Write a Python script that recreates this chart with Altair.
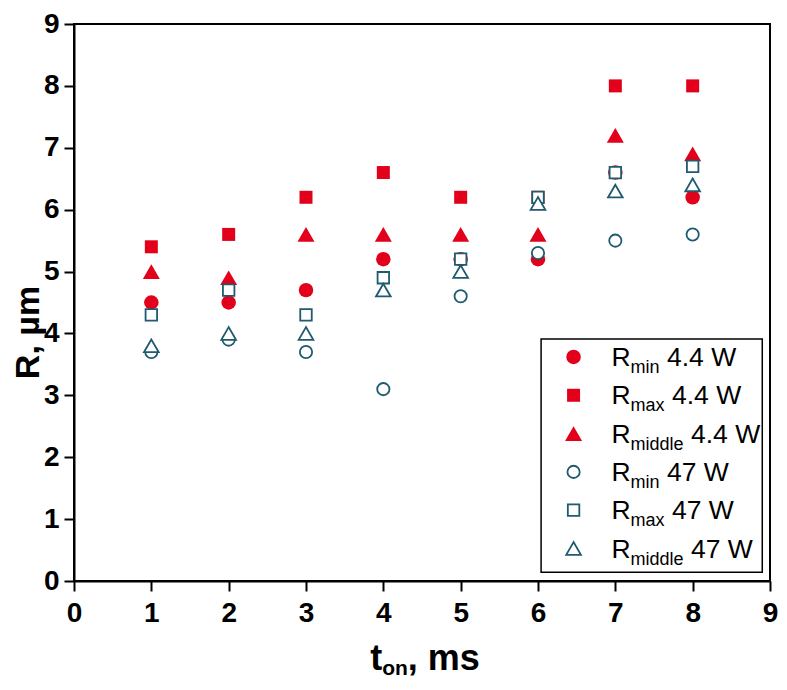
import altair as alt
import pandas as pd

# ---------------- data ----------------
t_on = [1, 2, 3, 4, 5, 6, 7, 8]
rmin_44 = [4.5, 4.5, 4.7, 5.2, 5.2, 5.2, 6.6, 6.2]
rmax_44 = [5.4, 5.6, 6.2, 6.6, 6.2, 6.2, 8.0, 8.0]
rmid_44 = [5.0, 4.9, 5.6, 5.6, 5.6, 5.6, 7.2, 6.9]
rmin_47 = [3.7, 3.9, 3.7, 3.1, 4.6, 5.3, 5.5, 5.6]
rmax_47 = [4.3, 4.7, 4.3, 4.9, 5.2, 6.2, 6.6, 6.7]
rmid_47 = [3.8, 4.0, 4.0, 4.7, 5.0, 6.1, 6.3, 6.4]

series_values = [rmin_44, rmax_44, rmid_44, rmin_47, rmax_47, rmid_47]
legend_sub = ["min", "max", "middle", "min", "max", "middle"]
legend_suffix = ["4.4 W", "4.4 W", "4.4 W", "47 W", "47 W", "47 W"]

x_ticks = [i * 0.5 for i in range(19)]
y_ticks = [i * 0.5 for i in range(19)]

# ---------------- style ----------------
RED = "#e2001a"
TEAL = "#1f5a6e"
FONT = "Liberation Sans"
W, H = 696, 557
PPU_X = W / 9.0
LEG_FS, LEG_SUB_FS = 26.5, 18

styles = [
    dict(shape="circle", size=210, filled=True, color=RED),
    dict(shape="square", size=169, filled=True, color=RED),
    dict(shape="triangle-up", size=289, filled=True, color=RED),
    dict(shape="circle", size=150, filled=True, fill="white", stroke=TEAL, strokeWidth=1.8),
    dict(shape="square", size=132, filled=True, fill="white", stroke=TEAL, strokeWidth=1.8),
    dict(shape="triangle-up", size=215, filled=True, fill="white", stroke=TEAL, strokeWidth=1.8),
]

ARIAL = {"m": 833, "i": 222, "n": 556, "a": 556, "x": 500, "d": 556, "l": 222,
         "e": 556, "R": 722, " ": 278}
ARIAL_B = {"t": 333, "o": 611, "n": 611}


def tw(s, size, table=ARIAL):
    return sum(table[c] for c in s) / 1000.0 * size


xs = alt.Scale(domain=[0, 9], nice=False, zero=False)
ys = alt.Scale(domain=[0, 9], nice=False, zero=False)

label_expr = "datum.value % 1 === 0 ? format(datum.value, 'd') : ''"
tick_size = {"condition": {"test": "datum.value % 1 !== 0", "value": 5}, "value": 10}

x_axis = alt.Axis(
    values=x_ticks, title=None, grid=False, labelExpr=label_expr, tickSize=tick_size,
    labelPadding=8, labelOverlap=False, labelFlush=False,
)
y_axis = alt.Axis(
    values=y_ticks, title="R, µm", grid=False, labelExpr=label_expr, tickSize=tick_size,
    labelPadding=5, labelOverlap=False, labelFlush=False,
    titleFont=FONT, titleFontSize=34, titleFontWeight="bold", titleColor="black",
    titleX=-36, titleY=308, titleBaseline="alphabetic", titleAngle=270,
)

layers = []
for vals, st in zip(series_values, styles):
    df = pd.DataFrame({"t": t_on, "r": vals})
    layers.append(
        alt.Chart(df).mark_point(opacity=1, **st).encode(
            x=alt.X("t:Q", scale=xs, axis=x_axis),
            y=alt.Y("r:Q", scale=ys, axis=y_axis),
        )
    )

# ---------------- legend (in data units) ----------------
box = pd.DataFrame({"x": [6.04], "x2": [8.9], "y": [3.91], "y2": [0.14]})
layers.append(
    alt.Chart(box).mark_rect(fill="white", stroke="black", strokeWidth=1.5).encode(
        x="x:Q", x2="x2:Q", y="y:Q", y2="y2:Q"
    )
)

row_y0, row_step = 3.62, 0.619
sym_x, text_x = 6.46, 6.95
rows = []
for i in range(6):
    x_sub = text_x + tw("R", LEG_FS) / PPU_X
    x_suf = x_sub + (tw(legend_sub[i], LEG_SUB_FS) + tw(" ", LEG_FS)) / PPU_X
    rows.append(dict(y=row_y0 - row_step * i, xr=text_x, xs=x_sub, xf=x_suf,
                     main="R", sub=legend_sub[i], suf=legend_suffix[i]))
leg = pd.DataFrame(rows)

for i, st in enumerate(styles):
    d = pd.DataFrame({"x": [sym_x], "y": [leg["y"][i]]})
    layers.append(alt.Chart(d).mark_point(opacity=1, **st).encode(x="x:Q", y="y:Q"))

layers.append(alt.Chart(leg).mark_text(font=FONT, fontSize=LEG_FS, align="left",
                                       baseline="alphabetic", dy=9, color="black")
              .encode(x="xr:Q", y="y:Q", text="main:N"))
layers.append(alt.Chart(leg).mark_text(font=FONT, fontSize=LEG_SUB_FS, align="left",
                                       baseline="alphabetic", dy=16, color="black")
              .encode(x="xs:Q", y="y:Q", text="sub:N"))
layers.append(alt.Chart(leg).mark_text(font=FONT, fontSize=LEG_FS, align="left",
                                       baseline="alphabetic", dy=9, color="black")
              .encode(x="xf:Q", y="y:Q", text="suf:N"))

# ---------------- x title with subscript ----------------
tx0 = 3.83
xt = pd.DataFrame({
    "x": [tx0, tx0 + tw("t", 36, ARIAL_B) / PPU_X,
          tx0 + (tw("t", 36, ARIAL_B) + tw("on", 21, ARIAL_B)) / PPU_X],
    "txt": ["t", "on", ", ms"],
    "part": ["main", "sub", "main"],
})
layers.append(alt.Chart(xt[xt.part == "main"]).mark_text(
    font=FONT, fontSize=36, fontWeight="bold", align="left", baseline="alphabetic",
    color="black").encode(x="x:Q", y=alt.value(646), text="txt:N"))
layers.append(alt.Chart(xt[xt.part == "sub"]).mark_text(
    font=FONT, fontSize=21, fontWeight="bold", align="left", baseline="alphabetic",
    color="black").encode(x="x:Q", y=alt.value(651), text="txt:N"))

chart = alt.layer(*layers).properties(
    width=W, height=H,
    autosize=alt.AutoSizeParams(type="none"),
    padding={"left": 66, "top": 16, "right": 9, "bottom": 99},
).configure_view(
    stroke="black", strokeWidth=2
).configure_axis(
    domainColor="black", domainWidth=2, tickColor="black", tickWidth=2,
    labelFont=FONT, labelFontWeight="bold", labelFontSize=28, labelColor="black",
)

chart.save("out.html", embed_options={"renderer": "svg", "actions": False})
